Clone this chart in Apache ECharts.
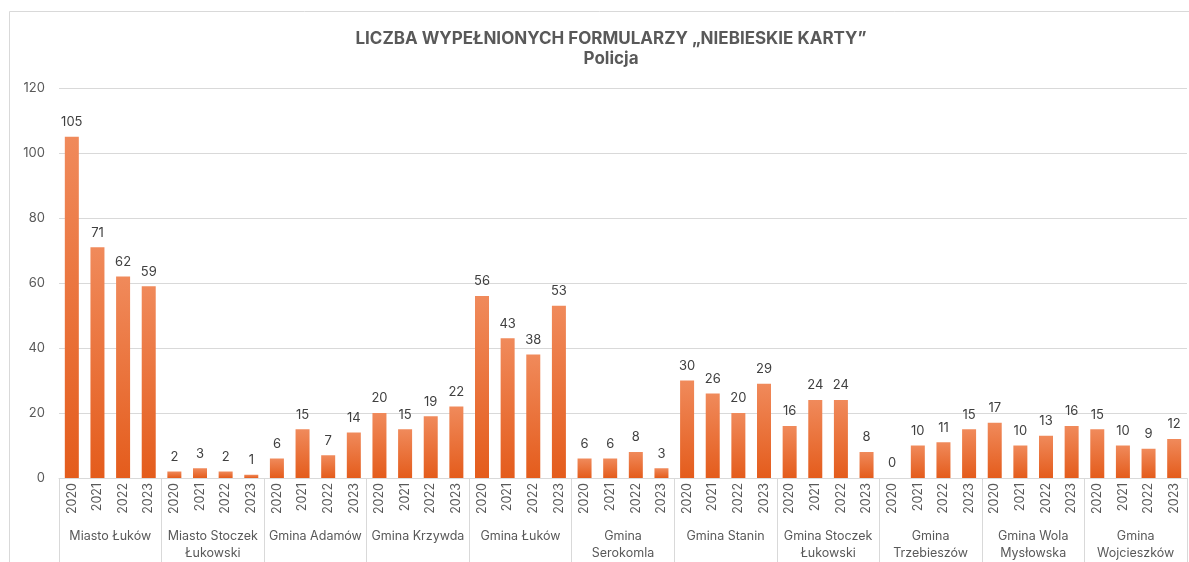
<!DOCTYPE html>
<html>
<head>
<meta charset="utf-8">
<script src="https://cdn.jsdelivr.net/npm/echarts@6/dist/echarts.min.js"></script>
<style>
  html, body { margin: 0; padding: 0; background: #fff; }
  #chart { width: 1189px; height: 562px; }
</style>
</head>
<body>
<div id="chart"></div>
<script>
const years = ['2020', '2021', '2022', '2023']
const groups = [
  'Miasto Łuków',
  'Miasto Stoczek\nŁukowski',
  'Gmina Adamów',
  'Gmina Krzywda',
  'Gmina Łuków',
  'Gmina\nSerokomla',
  'Gmina Stanin',
  'Gmina Stoczek\nŁukowski',
  'Gmina\nTrzebieszów',
  'Gmina Wola\nMysłowska',
  'Gmina\nWojcieszków'
]
const values = [
  105, 71, 62, 59,
  2, 3, 2, 1,
  6, 15, 7, 14,
  20, 15, 19, 22,
  56, 43, 38, 53,
  6, 6, 8, 3,
  30, 26, 20, 29,
  16, 24, 24, 8,
  0, 10, 11, 15,
  17, 10, 13, 16,
  15, 10, 9, 12
]
const yTicks = [0, 20, 40, 60, 80, 100, 120]

const yearCats = []
groups.forEach(() => years.forEach(y => yearCats.push(y)))

const font = 'Inter, "Open Sans", "Noto Sans", sans-serif'
const chart = echarts.init(document.getElementById('chart'))
chart.setOption({
  animation: false,
  textStyle: { fontFamily: font },
  title: {
    text: 'LICZBA WYPEŁNIONYCH FORMULARZY „NIEBIESKIE KARTY”',
    subtext: 'Policja',
    left: 606,
    textAlign: 'center',
    top: 25,
    itemGap: 3,
    textStyle: { fontSize: 17, fontWeight: 'bold', color: '#595959', fontFamily: font },
    subtextStyle: { fontSize: 17, fontWeight: 'bold', color: '#595959', fontFamily: font }
  },
  graphic: [{
    type: 'rect',
    shape: { x: 9.5, y: 11.5, width: 1200, height: 600 },
    style: { fill: 'none', stroke: '#d9d9d9', lineWidth: 1 },
    silent: true,
    z: -1
  }],
  grid: { left: 59, right: 2, top: 88, bottom: 81 },
  xAxis: [
    {
      type: 'category',
      data: yearCats,
      axisLine: { lineStyle: { color: '#d9d9d9' } },
      axisTick: { show: false },
      axisLabel: {
        interval: 0,
        rotate: 90,
        margin: 5,
        fontSize: 12.5,
        color: '#595959'
      }
    },
    {
      type: 'category',
      data: groups,
      position: 'bottom',
      offset: 0,
      axisLine: { show: false },
      axisTick: { show: true, length: 86, lineStyle: { color: '#d9d9d9' } },
      axisLabel: {
        interval: 0,
        margin: 50,
        fontSize: 12.5,
        lineHeight: 17,
        color: '#595959',
        verticalAlign: 'top'
      }
    }
  ],
  yAxis: {
    type: 'value',
    min: yTicks[0],
    max: yTicks[yTicks.length - 1],
    interval: 20,
    axisLine: { show: false },
    axisTick: { show: false },
    axisLabel: { fontSize: 13, color: '#595959', margin: 14 },
    splitLine: { lineStyle: { color: '#d9d9d9' } }
  },
  series: [{
    type: 'bar',
    xAxisIndex: 0,
    data: values,
    barWidth: 14,
    itemStyle: {
      color: new echarts.graphic.LinearGradient(0, 0, 0, 1, [
        { offset: 0, color: '#f08a5b' },
        { offset: 1, color: '#e45c1c' }
      ])
    },
    label: {
      show: true,
      position: 'top',
      distance: 8,
      fontSize: 13,
      color: '#404040'
    }
  }]
})
</script>
</body>
</html>
